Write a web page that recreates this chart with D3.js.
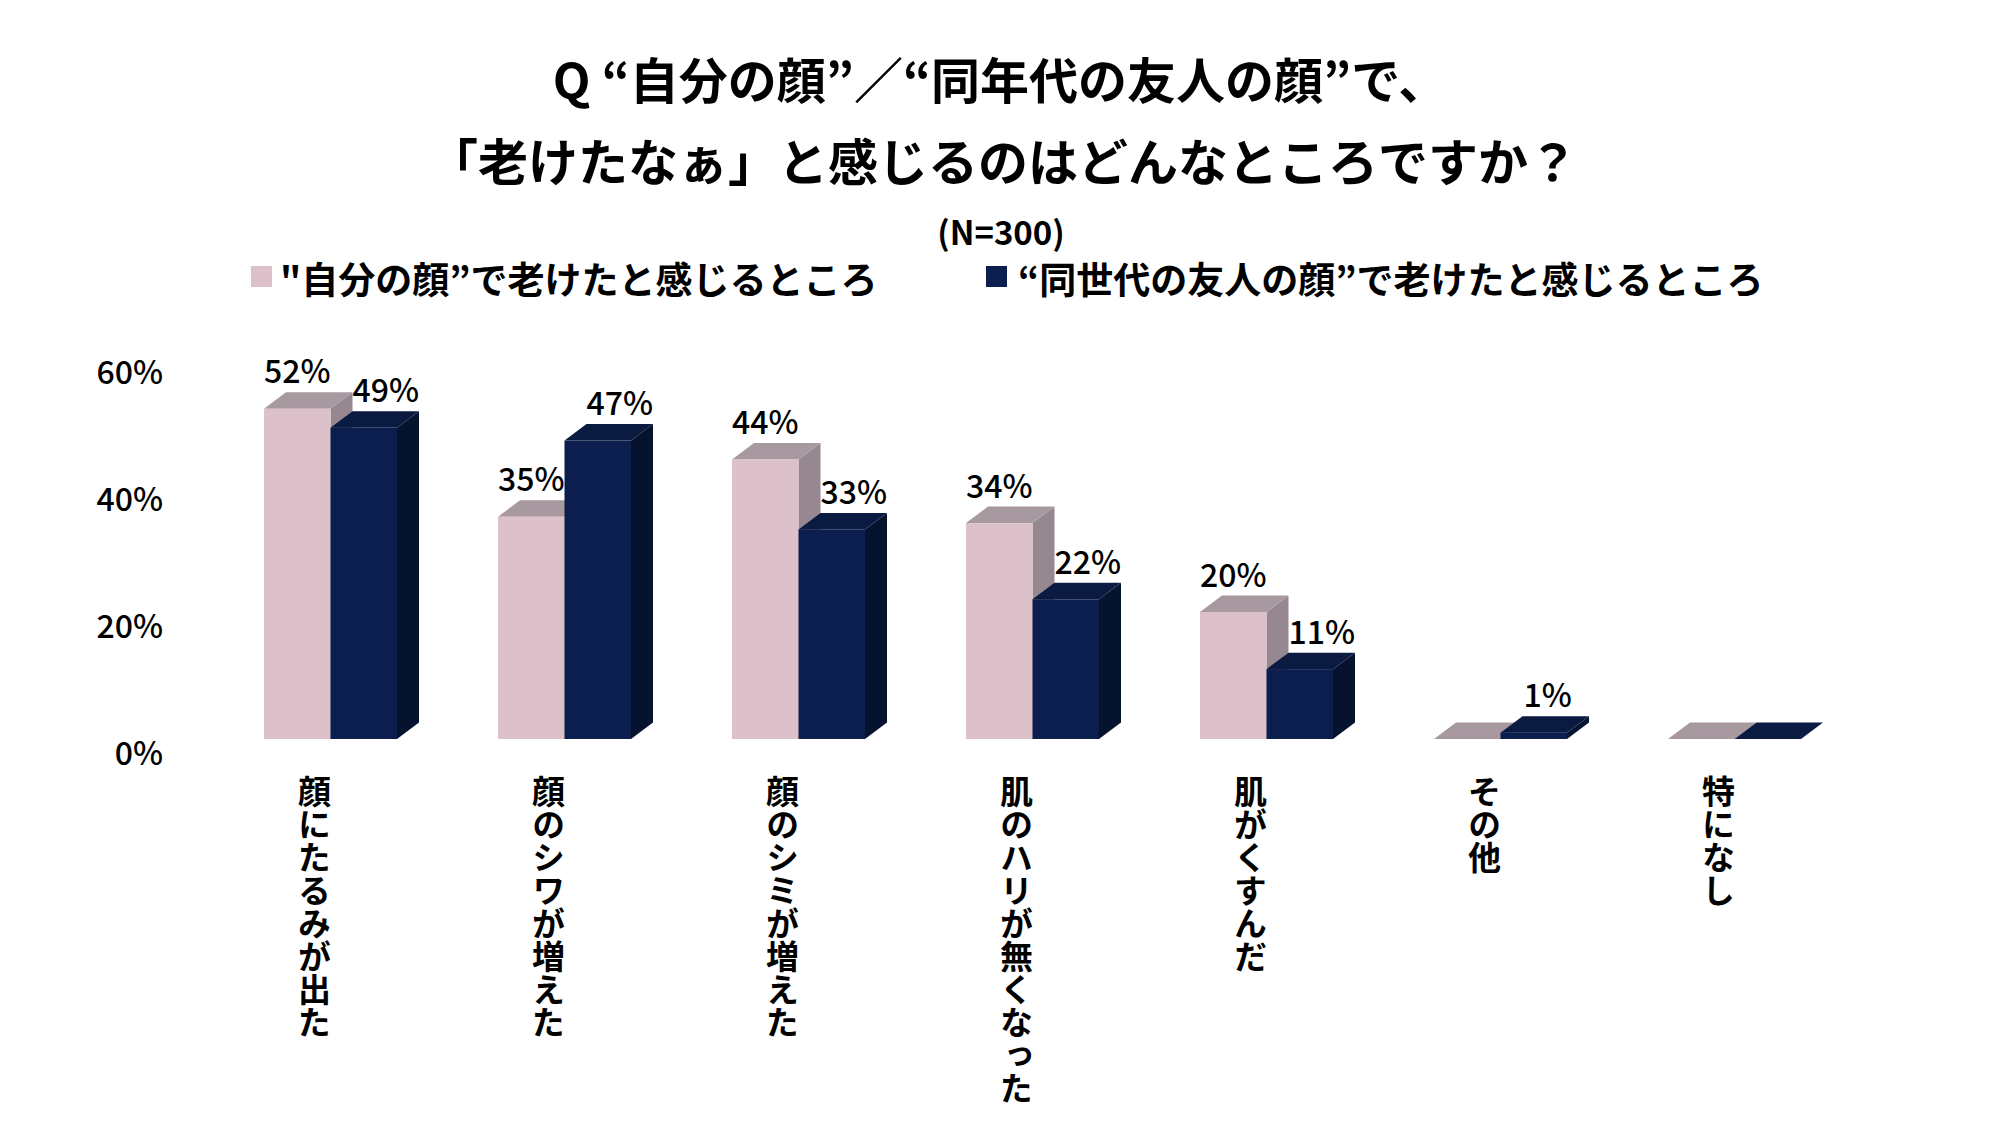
<!DOCTYPE html>
<html><head><meta charset="utf-8">
<script src="https://cdn.jsdelivr.net/npm/d3@7"></script>
<style>
html,body{margin:0;padding:0;background:#fff;}
svg{display:block;}
text{font-family:"Noto Sans CJK JP","Noto Sans",sans-serif;fill:#000;}
</style></head>
<body><svg id="c" width="2000" height="1125"></svg>
<script>
const categories = ["顔にたるみが出た","顔のシワが増えた","顔のシミが増えた","肌のハリが無くなった","肌がくすんだ","その他","特になし"];
const seriesNames = ["\"自分の顔”で老けたと感じるところ","“同世代の友人の顔”で老けたと感じるところ"];
const selfValues = [52, 35, 44, 34, 20, 0, 0];
const friendValues = [49, 47, 33, 22, 11, 1, 0];
const yTicks = [0, 20, 40, 60];
const titleLines = ["Q “自分の顔”／“同年代の友人の顔”で、","「老けたなぁ」と感じるのはどんなところですか？"];
const subtitle = "(N=300)";

const colors = [
  {front:"#dcc1cb", top:"#a8989f", side:"#978790"},
  {front:"#0b1e4d", top:"#0a1a41", side:"#06132f"}
];
const DX = 22, DY = 16.5;

const svg = d3.select("#c");
const x = d3.scaleBand().domain(categories).range([213.5, 213.5 + 7*234]).paddingInner(0.4316).paddingOuter(0.2158);
const xs = d3.scaleBand().domain([0,1]).range([0, x.bandwidth()]);
const y = d3.scaleLinear().domain([0, 60]).range([739, 358]);

// Title
svg.append("g").selectAll("text").data(titleLines).join("text")
  .attr("x", (d,i)=> i===0 ? 1000 : 1003).attr("y", (d,i)=> i===0 ? 99 : 181)
  .attr("text-anchor","middle").attr("font-size", (d,i)=> i===0 ? 49 : 50).attr("font-weight", 700)
  .text(d=>d);
svg.append("text").attr("x", 1001).attr("y", 245).attr("text-anchor","middle")
  .attr("font-size", 33).attr("font-weight", 700).text(subtitle);

// Legend
const legendX = [251, 986];
const lg = svg.append("g").selectAll("g").data(seriesNames).join("g")
  .attr("transform",(d,i)=>`translate(${legendX[i]},266)`);
lg.append("rect").attr("width", 21).attr("height", 21).attr("fill",(d,i)=>colors[i].front);
lg.append("text").attr("x", (d,i)=> i===0 ? 29 : 32).attr("y", 28).attr("font-size", 37).attr("font-weight", 700).text(d=>d);

// Y axis labels
svg.append("g").selectAll("text").data(yTicks).join("text")
  .attr("x", 163).attr("y", d=>y(d)+25.5).attr("text-anchor","end")
  .attr("font-size", 32).attr("font-weight", 500).text(d=>d+"%");

// Bars
const data = categories.map((c,i)=>({cat:c, vals:[selfValues[i], friendValues[i]]}));
const bars = svg.append("g");
data.forEach(d=>{
  d.vals.forEach((v,s)=>{
    const x0 = x(d.cat) + xs(s), w = xs.bandwidth(), top = y(v), base = y(0);
    const g = bars.append("g");
    g.append("polygon").attr("fill", colors[s].side)
      .attr("points", [[x0+w,top],[x0+w+DX,top-DY],[x0+w+DX,base-DY],[x0+w,base]].join(" "));
    g.append("polygon").attr("fill", colors[s].top)
      .attr("points", [[x0,top],[x0+DX,top-DY],[x0+w+DX,top-DY],[x0+w,top]].join(" "));
    g.append("rect").attr("fill", colors[s].front)
      .attr("x", x0).attr("y", top).attr("width", w).attr("height", base-top);
  });
});

// Value labels
data.forEach(d=>{
  d.vals.forEach((v,s)=>{
    if (v === 0) return;
    const x0 = x(d.cat) + xs(s), w = xs.bandwidth();
    svg.append("text").attr("x", x0 + w/2 + (s===1 ? DX : 0) - (v<10 ? 8 : 0)).attr("y", y(v) - 25.5)
      .attr("text-anchor","middle").attr("font-size", 32).attr("font-weight", 500)
      .text(v+"%");
  });
});

// Category labels (vertical)
svg.append("g").selectAll("text").data(categories).join("text")
  .attr("x", d=> x(d) + xs.bandwidth() - 16)
  .attr("y", 775)
  .attr("font-size", 33).attr("font-weight", 700)
  .style("writing-mode","vertical-rl").style("text-orientation","upright")
  .attr("text-anchor","start")
  .text(d=>d);
</script></body></html>
